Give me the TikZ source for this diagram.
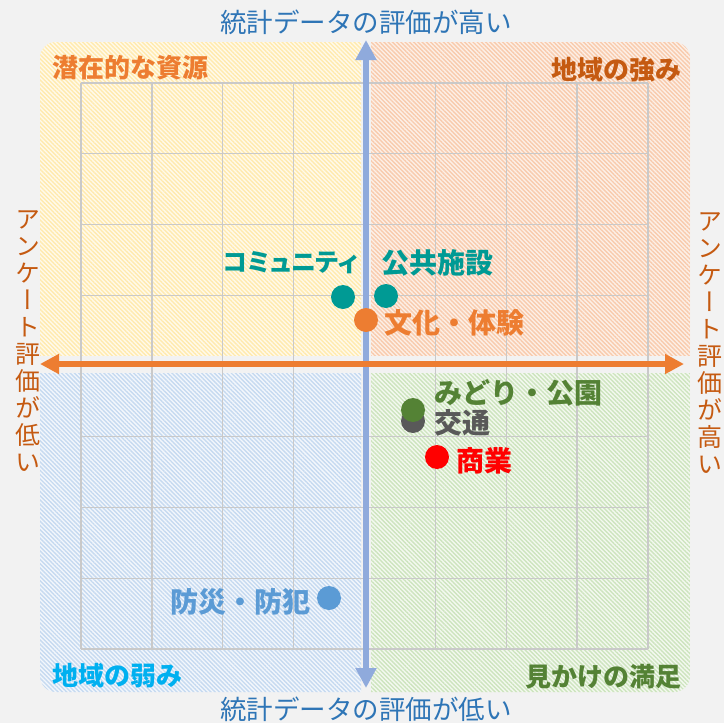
\documentclass[tikz,border=0pt]{standalone}
\usepackage{fontspec}
\setmainfont{Noto Sans CJK JP}
\newfontfamily\vjp{Noto Sans CJK JP}[RawFeature=+vert]
\newfontfamily\pjp{Noto Sans CJK JP}[RawFeature=+palt]
\usetikzlibrary{arrows.meta}
\usetikzlibrary{patterns.meta}
\usetikzlibrary{math}
\definecolor{bggray}{HTML}{F2F2F2}
\definecolor{gridgray}{HTML}{C9C9C9}
\definecolor{axblue}{HTML}{8FAADC}
\definecolor{axorange}{HTML}{ED7D31}
\definecolor{txtblue}{HTML}{2E75B6}
\definecolor{txtbrown}{HTML}{C55A11}
\definecolor{txtcyan}{HTML}{00B0F0}
\definecolor{txtgreen}{HTML}{548235}
\definecolor{ptteal}{HTML}{009A94}
\definecolor{ptgray}{HTML}{595959}
\definecolor{ptblue}{HTML}{5B9BD5}
\definecolor{yelbase}{HTML}{FFFAEB}
\definecolor{yelline}{HTML}{FFEAAE}
\definecolor{orgbase}{HTML}{FDF0E7}
\definecolor{orgline}{HTML}{F8CBAD}
\definecolor{blubase}{HTML}{F3F7FC}
\definecolor{bluline}{HTML}{C6DAF0}
\definecolor{grnbase}{HTML}{F4F9F0}
\definecolor{grnline}{HTML}{CDE4BE}
\tikzset{
    hatch/.style 2 args={fill=#1, rounded corners=16pt, postaction={pattern={Lines[angle=-45,distance=3pt,line width=1.4pt]}, pattern color=#2}},
    gridline/.style={draw=gridgray, line width=1.3pt},
    dot/.style={circle, minimum size=24pt, inner sep=0pt},
    axislabel/.style={inner sep=0pt, font=\fontsize{26.5}{30}\selectfont},
    vlabel/.style={inner sep=0pt, align=center, font=\vjp\fontsize{25}{27}\selectfont},
    quadlabel/.style={inner sep=0pt, font=\bfseries\fontsize{26}{30}\selectfont},
    ptlabel/.style={inner sep=0pt, font=\bfseries\fontsize{28}{30}\selectfont},
}

\begin{document}
\begin{tikzpicture}[x=1pt, y=-1pt] % quadrant chart
	\tikzmath{\cx = 366; \cy = 364; \gx = 70.875; \gy = 70.75;}
	\useasboundingbox (0,0) rectangle (724,723);
	\fill[bggray] (0,0) rectangle (724,723);
	% quadrants
	\begin{scope}
		\clip (40,42) rectangle (\cx-5,\cy-9);
		\fill[hatch={yelbase}{yelline}] (40,42) rectangle (690,692);
	\end{scope}
	\begin{scope}
		\clip (\cx+5,42) rectangle (690,\cy-9);
		\fill[hatch={orgbase}{orgline}] (40,42) rectangle (690,692);
	\end{scope}
	\begin{scope}
		\clip (40,\cy+9) rectangle (\cx-5,692);
		\fill[hatch={blubase}{bluline}] (40,42) rectangle (690,692);
	\end{scope}
	\begin{scope}
		\clip (\cx+5,\cy+9) rectangle (690,692);
		\fill[hatch={grnbase}{grnline}] (40,42) rectangle (690,692);
	\end{scope}
	% grid
	\foreach \i in {0,...,8} {
		\draw[gridline] (81+\gx*\i,83) -- (81+\gx*\i,649);
		\draw[gridline] (81,83+\gy*\i) -- (648,83+\gy*\i);
	}
	% axes
	\coordinate (top) at (\cx,40);
	\coordinate (bottom) at (\cx,688);
	\coordinate (left) at (40,\cy);
	\coordinate (right) at (684,\cy);
	\draw[axblue, line width=6pt, {Triangle[length=20pt,width=20pt]}-{Triangle[length=20pt,width=20pt]}] (bottom) -- (top);
	\draw[axorange, line width=5.5pt, {Triangle[length=19pt,width=19pt]}-{Triangle[length=19pt,width=19pt]}] (left) -- (right);
	\node[axislabel, text=txtblue] (hi) at (\cx,22) {統計データの評価が高い};
	\node[axislabel, text=txtblue] (lo) at (\cx,709) {統計データの評価が低い};
	\node[vlabel, text=txtbrown] (anklo) at (28,341) {ア\\ン\\ケ\\ー\\ト\\評\\価\\が\\低\\い};
	\node[vlabel, text=txtbrown] (ankhi) at (710,343) {ア\\ン\\ケ\\ー\\ト\\評\\価\\が\\高\\い};
	% quadrant names
	\node[quadlabel, text=axorange, anchor=west] (potential) at (52,68) {潜在的な資源};
	\node[quadlabel, text=txtbrown, anchor=east] (strength) at (682,70) {地域の強み};
	\node[quadlabel, text=txtcyan, anchor=west] (weakness) at (52,676) {地域の弱み};
	\node[quadlabel, text=txtgreen, anchor=east] (looks) at (682,677) {見かけの満足};
	% items
	\node[dot, fill=ptteal] (community) at (343,297) {};
	\node[dot, fill=ptteal] (facility) at (386,296) {};
	\node[dot, fill=axorange] (culture) at (366,320) {};
	\node[dot, fill=ptgray] (traffic) at (413,421) {};
	\node[dot, fill=txtgreen] (green) at (413,410) {};
	\node[dot, fill=red] (commerce) at (437,457) {};
	\node[dot, fill=ptblue] (safety) at (329,598) {};
	\node[ptlabel, text=ptteal, anchor=east, font=\pjp\bfseries\fontsize{25}{30}\selectfont] (communitytxt) at (358,263) {コミュニティ};
	\node[ptlabel, text=ptteal, anchor=west] (facilitytxt) at (381,263) {公共施設};
	\node[ptlabel, text=axorange, anchor=west] (culturetxt) at (384,323) {文化・体験};
	\node[ptlabel, text=txtgreen, anchor=west] (greentxt) at (434,393) {みどり・公園};
	\node[ptlabel, text=ptgray, anchor=west] (traffictxt) at (434,423) {交通};
	\node[ptlabel, text=red, anchor=west] (commercetxt) at (456,461) {商業};
	\node[ptlabel, text=ptblue, anchor=east] (safetytxt) at (311,602) {防災・防犯};
\end{tikzpicture}
\end{document}
